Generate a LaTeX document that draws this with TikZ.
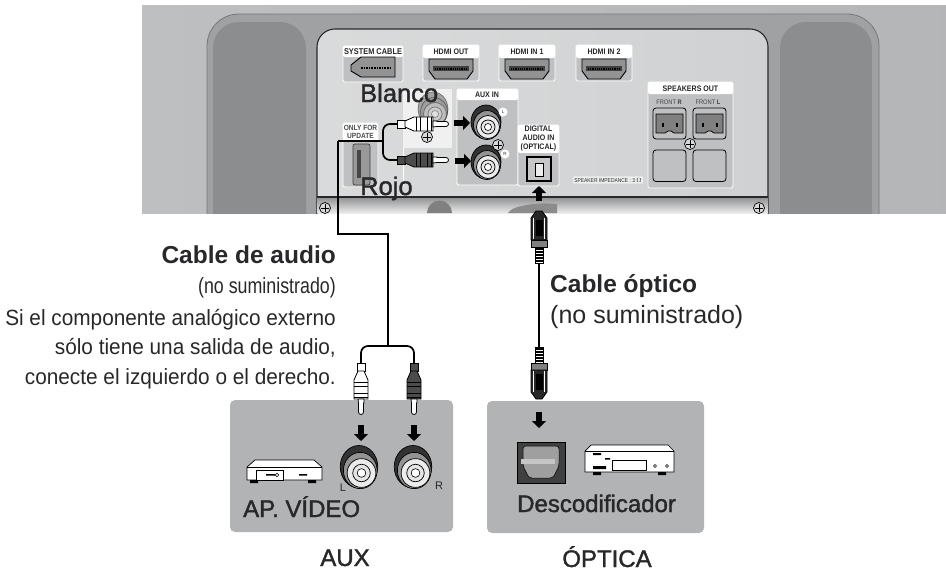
\documentclass[tikz,border=0pt]{standalone}
\usepackage{fontspec}
\setmainfont{Liberation Sans}
\newfontfamily\condfont[FakeStretch=0.88]{Liberation Sans}
\newfontfamily\sidefont[FakeStretch=0.945]{Liberation Sans}
\newfontfamily\narrowfont[FakeStretch=0.81]{Liberation Sans}
\newfontfamily\medfont[FakeBold=1.5]{Liberation Sans}
\usepackage{xcolor}
\usetikzlibrary{
    positioning,
    arrows.meta,
    calc
}
\definecolor{bgGray}{RGB}{190, 191, 193}
\definecolor{bodyGray}{RGB}{160, 161, 163}
\definecolor{edgeGray}{RGB}{118, 119, 121}
\definecolor{padGray}{RGB}{140, 141, 143}
\definecolor{panelGray}{RGB}{208, 209, 210}
\definecolor{portGray}{RGB}{191, 192, 194}
\definecolor{boxGray}{RGB}{178, 179, 181}
\definecolor{inkDark}{RGB}{40, 40, 42}
\tikzset{
    whitebox/.style={draw=white, line width=0.8pt, rounded corners=1.5pt, fill=portGray},
    headbox/.style={fill=white, rounded corners=1.5pt},
    smalltag/.style={inner sep=0pt, font=\condfont\bfseries\fontsize{8}{8.8}\selectfont, text=inkDark, align=center},
    bigtext/.style={inner sep=0pt, text=inkDark, font=\medfont\fontsize{24}{24}\selectfont},
    boldtext/.style={inner sep=0pt, text=inkDark, font=\bfseries\fontsize{24.5}{25}\selectfont},
    sidetext/.style={inner sep=0pt, anchor=base east, text=inkDark, font=\sidefont\fontsize{22}{22}\selectfont},
    fatarrow/.style={line width=6.5pt, -{Triangle[length=7pt,width=14pt]}},
    wire/.style={line width=1.7pt, line join=miter},
    pics/hdmiport/.style={code={
        \draw[line width=0.9pt, fill=gray!85] (-22,-10) -- (22,-10) -- (22,2) -- (16,10) -- (-16,10) -- (-22,2) -- cycle;
        \fill[black!75] (-18,-3) rectangle (18,2);
        \draw[black, densely dotted, line width=1.2pt] (-16,0) -- (16,0);
    }},
    pics/sysport/.style={code={
        \draw[line width=0.9pt, fill=gray!85] (-22,-3) -- (-12,-11) -- (22,-11) -- (22,9) -- (-12,9) -- (-22,3) -- cycle;
        \draw[black, densely dotted, line width=1.6pt] (-12,0) -- (19,0);
    }},
    pics/jack/.style={code={
        \draw[line width=0.7pt, fill=gray!40!black] (0,-1) ellipse (15 and 17);
        \draw[line width=0.7pt, fill=gray!85] (1,2) ellipse (13.5 and 14.5);
        \draw[line width=0.7pt, fill=white!92!black] (2,4) circle (11.5);
        \draw[line width=0.7pt, fill=gray!20] (2,4) circle (7);
        \draw[line width=0.6pt, fill=white] (2,4) circle (3.5);
    }},
    pics/screw/.style={code={
        \draw[line width=0.7pt, fill=white!70!gray] (0,0) circle (5.5);
        \draw[line width=1pt] (-4,0) -- (4,0) (0,-4) -- (0,4);
    }},
    pics/rcaplug/.style={code={
        \draw[line width=0.8pt, fill=#1] (0,-4) rectangle (8,4);
        \draw[line width=0.8pt, fill=#1] (8,-3) -- (17,-7) -- (36,-7) -- (36,7) -- (17,7) -- (8,3) -- cycle;
        \foreach \xpos in {19,23,30,34} {\draw[line width=0.7pt] (\xpos,-7) -- (\xpos,7);}
        \draw[line width=0.8pt, fill=white] (36,-3) -- (40,-3) -- (40,-2.5) -- (49,-2.5) arc (-90:90:2.5) -- (40,2.5) -- (36,3) -- cycle;
    }},
    pics/optplug/.style={code={
        \draw[line width=0.8pt, fill=white] (0,-4) rectangle (17,4);
        \foreach \xpos in {2,5,...,17} {\draw[line width=1.1pt] (\xpos,-4) -- (\xpos,4);}
        \draw[line width=0.8pt, fill=gray] (16,-8) rectangle (23,8);
        \draw[line width=0.8pt, fill=black!85] (23,-8) -- (45,-8) -- (52,-3) -- (52,3) -- (45,8) -- (23,8) -- cycle;
        \draw[white, line width=1pt] (24,-5.5) -- (45,-5.5) (24,5.5) -- (45,5.5);
        \fill[black] (27,-3.5) rectangle (43,3.5);
    }}
}
\begin{document}
\begin{tikzpicture}[x=1pt, y=-1pt]
    \useasboundingbox (0,0) rectangle (946,573);

    % back of the unit
    \shade[left color=bgGray, right color=bgGray!95!black] (142,5) rectangle (946,213);
    \begin{scope}
        \clip (142,5) rectangle (946,213);
        \draw[draw=edgeGray, fill=bodyGray, line width=0.8pt, rounded corners=32pt] (207,260) -- (207,14) -- (879,14) -- (879,260) -- cycle;
        \fill[padGray, rounded corners=26pt] (213,260) -- (213,22) -- (306,22) -- (306,260) -- cycle;
        \fill[padGray, rounded corners=26pt] (780,260) -- (780,22) -- (872,22) -- (872,260) -- cycle;
        \shade[left color=panelGray!80!white, right color=panelGray, draw=inkDark, line width=1.1pt, rounded corners=18pt] (317,260) -- (317,29) -- (768,29) -- (768,260) -- cycle;
    \end{scope}
    \shade[top color=boxGray!80!black, bottom color=white!85!gray] (317.5,197) rectangle (767.5,213);
    \draw[draw=inkDark, line width=1.1pt] (317,197) -- (768,197);
    \fill[gray] (427,213) arc (180:360:12.5) -- cycle;
    \fill[gray!90] (508,213) .. controls (512,205) and (540,202) .. (557,204) -- (557,213) -- cycle;
    \pic at (325,208) {screw};
    \pic at (759,208) {screw};

    % top row
    \draw[whitebox] (343,46) rectangle (403,82);
    \fill[headbox] (343,46) rectangle (403,57);
    \node[smalltag, font=\condfont\bfseries\fontsize{8.4}{9}\selectfont] (syslabel) at (373,52) {SYSTEM CABLE};
    \pic at (373,68) {sysport};
    \foreach \xleft/\txt/\name in {423/HDMI OUT/out, 499/HDMI IN 1/ina, 576/HDMI IN 2/inb} {
        \draw[whitebox] (\xleft,45) rectangle ++(56,36);
        \fill[headbox] (\xleft,45) rectangle ++(56,13);
        \node[smalltag] (\name label) at (\xleft+28,51.5) {\txt};
        \pic at (\xleft+28,69) {hdmiport};
    }

    % ghost jack behind the plugs
    \fill[white!88!gray] (403,89) rectangle (452,148);
    \draw[white, line width=0.8pt] (403,148) -- (403,186);
    \pic[opacity=0.4] at (433,110) {jack};
    \pic at (427,137) {screw};

    % update slot
    \draw[whitebox] (343,123) rectangle (378,187);
    \fill[headbox] (343,123) rectangle (378,141);
    \node[smalltag, font=\condfont\bfseries\fontsize{7.5}{8.4}\selectfont, text=gray!60!black] (updlabel) at (360.5,132) {ONLY FOR\\UPDATE};
    \draw[line width=0.7pt, draw=gray!50!black, fill=gray!80, rounded corners=2pt] (353,144) rectangle (370,185);
    \fill[gray!55!black] (357,150) rectangle (361,178);

    % aux in
    \draw[whitebox] (457,89) rectangle (518,185);
    \fill[headbox] (457,89) rectangle (518,100);
    \node[smalltag] (auxlabel) at (487,95) {AUX IN};
    \pic at (486,123) {jack};
    \pic at (486,163) {jack};
    \fill[white] (503,112) circle (4.5);
    \fill[white] (505,154) circle (4.5);
    \node[smalltag, font=\fontsize{4.5}{5}\selectfont] (jackl) at (503,112) {L};
    \node[smalltag, font=\fontsize{4.5}{5}\selectfont] (jackr) at (505,154) {R};
    \pic at (498,145) {screw};

    % optical in
    \draw[whitebox] (518,125) rectangle (559,186);
    \fill[headbox] (518,125) rectangle (559,153);
    \node[smalltag, font=\condfont\bfseries\fontsize{8}{9}\selectfont] (diglabel) at (538.5,139) {DIGITAL\\AUDIO IN\\(OPTICAL)};
    \draw[line width=1.1pt, fill=gray!45] (527,157) rectangle (551,181);
    \draw[line width=0.9pt, fill=gray!15] (535,163) -- (543,163) -- (543,176) -- (535,176) -- cycle;

    % speakers
    \draw[whitebox] (648,82) rectangle (733,188);
    \fill[headbox] (648,82) rectangle (733,94);
    \node[smalltag] (spklabel) at (690.5,89) {SPEAKERS OUT};
    \node[smalltag, font=\condfont\fontsize{6.5}{7}\selectfont, text=gray!50!black] (frontr) at (669,102) {FRONT \textbf{R}};
    \node[smalltag, font=\condfont\fontsize{6.5}{7}\selectfont, text=gray!50!black] (frontl) at (708,102) {FRONT \textbf{L}};
    \foreach \xleft in {653,693} {
        \draw[line width=0.8pt, rounded corners=3pt, fill=portGray] (\xleft,108) rectangle ++(33,31);
        \draw[line width=0.7pt, fill=gray] (\xleft+3,114) -- ++(27,0) -- ++(0,19) -- ++(-9,0) -- ++(-3,-2) -- ++(-3,0) -- ++(-3,2) -- ++(-9,0) -- cycle;
        \fill[black] (\xleft+9,123) rectangle ++(1.5,4);
        \fill[black] (\xleft+23,123) rectangle ++(1.5,4);
        \draw[line width=0.8pt, rounded corners=3pt, fill=portGray] (\xleft,150) rectangle ++(33,31.5);
    }
    \pic at (690,144) {screw};
    \node[smalltag, fill=white!60!panelGray, inner sep=1.5pt, rounded corners=1pt, font=\condfont\fontsize{5.6}{6}\selectfont] (implabel) at (608,180) {SPEAKER IMPEDANCE : 3 $\Omega$};

    % plugs in the panel
    \coordinate (wireTop) at (338,141);
    \coordinate (wireMid) at (338,234);
    \coordinate (wireBot) at (388,234);
    \coordinate (wireSplit) at (388,346);
    \coordinate (plugW) at (397,124);
    \coordinate (plugB) at (397,160);
    \draw[wire] (wireTop) -- (wireMid) -- (wireBot) -- (wireSplit);
    \draw[wire] (wireTop) -- (383,141);
    \draw[wire, rounded corners=7pt] (plugW) -- (383,124) -- (383,160) -- (plugB);
    \pic at (plugW) {rcaplug=white};
    \pic at (plugB) {rcaplug=gray!60!black};
    \coordinate (arrLa) at (454,123);
    \coordinate (arrLb) at (470,123);
    \coordinate (arrRa) at (455,161);
    \coordinate (arrRb) at (471,161);
    \draw[fatarrow] (arrLa) -- (arrLb);
    \draw[fatarrow] (arrRa) -- (arrRb);

    \node[bigtext, anchor=base west, font=\medfont\fontsize{25.5}{26}\selectfont] (blanco) at (360,102) {Blanco};
    \node[bigtext, anchor=base west, font=\medfont\fontsize{25.5}{26}\selectfont] (rojo) at (360,195) {Rojo};

    % optical cable
    \coordinate (optTop) at (539,263);
    \coordinate (optBot) at (539,347);
    \draw[line width=1.2pt] (optTop) -- (optBot);
    \pic[rotate=90] at (optTop) {optplug};
    \pic[rotate=-90] at (optBot) {optplug};
    \coordinate (arrUa) at (539,201);
    \coordinate (arrUb) at (539,186);
    \draw[fatarrow] (arrUa) -- (arrUb);

    % left box
    \fill[boxGray, rounded corners=5pt] (230,400) rectangle (453,532);
    \coordinate (plugL) at (361,363);
    \coordinate (plugR) at (414,363);
    \draw[wire, rounded corners=7pt] (plugL) -- (361,346) -- (414,346) -- (plugR);
    \pic[rotate=-90] at (plugL) {rcaplug=white};
    \pic[rotate=-90] at (plugR) {rcaplug=gray!60!black};
    \coordinate (arrAa) at (361,425);
    \coordinate (arrAb) at (361,441);
    \coordinate (arrBa) at (414,425);
    \coordinate (arrBb) at (414,441);
    \draw[fatarrow] (arrAa) -- (arrAb);
    \draw[fatarrow] (arrBa) -- (arrBb);
    \pic[scale=1.25] at (359,468) {jack};
    \pic[scale=1.25] at (413,468) {jack};
    \node[bigtext, font=\fontsize{11}{12}\selectfont] (labl) at (343,488) {L};
    \node[bigtext, font=\fontsize{11}{12}\selectfont] (labr) at (439,486) {R};
    % player
    \draw[line width=0.7pt, fill=white] (247,467) -- (255,460) -- (314,460) -- (322,467) -- (322,480) -- (247,480) -- cycle;
    \draw[line width=0.7pt] (247,467) -- (322,467);
    \draw[line width=0.7pt, fill=white] (256,470) rectangle (283,480);
    \fill[black] (250,480) rectangle (258,483) (308,480) rectangle (316,483);
    \fill[black] (266,474) rectangle (275,475.5) (299,474) rectangle (307,475.5);
    \draw[line width=0.5pt] (277,475) circle (1.8);
    \node[bigtext, anchor=base west] (apvideo) at (243,517) {AP. VÍDEO};
    \node[bigtext, anchor=base] (auxtext) at (345,566) {AUX};

    % right box
    \fill[boxGray, rounded corners=5pt] (487,401) rectangle (704,533);
    \coordinate (arrCa) at (539,412);
    \coordinate (arrCb) at (539,428);
    \draw[fatarrow] (arrCa) -- (arrCb);
    \draw[line width=1pt, fill=gray!50!black] (517,442) rectangle (565,483);
    \draw[line width=0.5pt, fill=gray!75, rounded corners=3pt] (523,446) -- (559,446) -- (559,466) -- (553,478) -- (529,478) -- (523,466) -- cycle;
    \fill[gray!45] (521,459) rectangle (555,464);
    % decoder
    \draw[line width=0.7pt, fill=white] (585,451) -- (591,445) -- (668,445) -- (674,451) -- (674,472) -- (585,472) -- cycle;
    \draw[line width=0.7pt] (585,451) -- (674,451);
    \draw[line width=0.5pt, fill=white] (612,460) rectangle (646,470);
    \fill[black] (593,453) rectangle (601,455) (605,458) rectangle (610,459.5) (593,466) rectangle (606,469);
    \fill[black] (593,472) rectangle (601,475) (658,472) rectangle (666,475);
    \draw[line width=0.5pt] (655,466) circle (1.5) (667,466) circle (1.5);
    \node[bigtext, anchor=base west] (descod) at (517,512) {Descodificador};
    \node[bigtext, anchor=base] (optica) at (607,567) {ÓPTICA};

    % captions
    \node[sidetext, font=\bfseries\fontsize{24.5}{25}\selectfont] (audiocap) at (336,263) {Cable de audio};
    \node[sidetext, font=\narrowfont\fontsize{22}{22}\selectfont] (audiona) at (336,293) {(no suministrado)};
    \node[sidetext] (audioa) at (336,325) {Si el componente analógico externo};
    \node[sidetext] (audiob) at (336,354) {sólo tiene una salida de audio,};
    \node[sidetext] (audioc) at (336,384) {conecte el izquierdo o el derecho.};
    \node[boldtext, anchor=base west] (optcap) at (550,292) {Cable óptico};
    \node[bigtext, anchor=base west, font=\fontsize{25}{25}\selectfont] (optna) at (550,323) {(no suministrado)};
\end{tikzpicture}
\end{document}
